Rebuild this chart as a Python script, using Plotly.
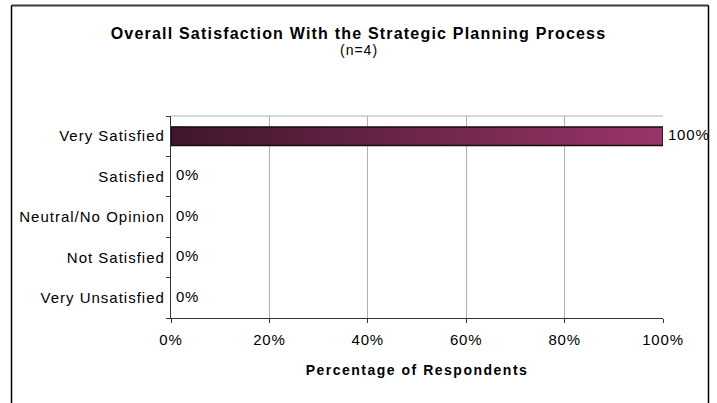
import plotly.graph_objects as go

categories = ["Very Satisfied", "Satisfied", "Neutral/No Opinion", "Not Satisfied", "Very Unsatisfied"]
values = [100, 0, 0, 0, 0]
x_ticks = [0, 20, 40, 60, 80, 100]
x_tick_labels = ["0%", "20%", "40%", "60%", "80%", "100%"]
value_labels = ["100%", "0%", "0%", "0%", "0%"]
title_text = "Overall Satisfaction With the Strategic Planning Process"
subtitle_text = "(n=4)"
x_title = "Percentage of Respondents"

FONT = "Liberation Sans, Arial, sans-serif"
C_DARK = (0x40, 0x16, 0x2c)
C_LIGHT = (0x9a, 0x35, 0x68)


def sp(t, ls):
    return f"<span style='letter-spacing:{ls}px'>{t}</span>"


def mix(f):
    return "rgb(%d,%d,%d)" % tuple(round(a + (b - a) * f) for a, b in zip(C_DARK, C_LIGHT))


fig = go.Figure()

# gradient bar: longest (lightest) first, shorter/darker layers on top
N = 80
for cat, v in zip(categories, values):
    if v <= 0:
        continue
    for i in range(N):
        frac = 1 - i / N
        fig.add_trace(go.Bar(
            y=[cat], x=[v * frac], base=0, orientation="h", width=0.46,
            marker=dict(color=mix(frac - 0.5 / N), line=dict(width=0)),
            hoverinfo="skip", showlegend=False,
        ))

# outline
fig.add_trace(go.Bar(
    y=categories, x=values, orientation="h", width=0.46,
    marker=dict(color="rgba(0,0,0,0)",
                line=dict(color="#1a0a12", width=[1.5 if v > 0 else 0 for v in values])),
    showlegend=False, hoverinfo="skip",
))

# value labels
fig.add_trace(go.Scatter(
    y=categories, x=values, mode="text",
    text=[sp("&nbsp;" + t, 0.8) for t in value_labels], textposition="middle right",
    textfont=dict(family=FONT, size=15, color="#000"),
    showlegend=False, hoverinfo="skip", cliponaxis=False,
))

fig.update_layout(
    width=717, height=403,
    margin=dict(l=171, r=54, t=116, b=85),
    paper_bgcolor="white", plot_bgcolor="white",
    barmode="overlay",
    font=dict(family=FONT, size=15, color="#000"),
    title=dict(text="<b>" + sp(title_text, 1.2) + "</b>", x=0.5, xanchor="center",
               y=1 - 33 / 403, yanchor="middle",
               font=dict(family=FONT, size=16, color="#000")),
    xaxis=dict(range=[0, 100], tickvals=x_ticks, ticktext=[sp(t, 0.8) for t in x_tick_labels],
               showgrid=True, gridcolor="#b0b0b0", gridwidth=1, zeroline=False,
               showline=True, linecolor="#333", linewidth=1.3,
               ticks="outside", ticklen=4, tickcolor="#333", ticklabelstandoff=4,
               title=dict(text="<b>" + sp(x_title, 1.5) + "</b>", standoff=18,
                          font=dict(family=FONT, size=14, color="#000")),
               tickfont=dict(family=FONT, size=15, color="#000")),
    yaxis=dict(type="category", categoryorder="array", categoryarray=categories,
               autorange="reversed", tickvals=categories,
               ticktext=[sp(c, 1.0) for c in categories],
               showgrid=False, zeroline=False, showline=True, linecolor="#333", linewidth=1.3,
               ticks="outside", ticklen=4, tickcolor="#333", tickson="boundaries",
               ticklabelstandoff=2,
               tickfont=dict(family=FONT, size=15, color="#000")),
    annotations=[dict(text=sp(subtitle_text, 1), xref="paper", yref="paper",
                      x=(358.5 - 171) / 492, y=(318 - 50) / 202, xanchor="center", yanchor="middle",
                      showarrow=False, font=dict(family=FONT, size=14, color="#000"))],
    shapes=[
        dict(type="line", xref="paper", yref="paper", x0=0, x1=1, y0=1, y1=1,
             line=dict(color="#b0b0b0", width=1)),
        dict(type="line", xref="paper", yref="paper", x0=(11.5 - 171) / 492, x1=(708.5 - 171) / 492,
             y0=(318 - 5.5) / 202, y1=(318 - 5.5) / 202, line=dict(color="#3a3a3a", width=2)),
        dict(type="line", xref="paper", yref="paper", x0=(11.5 - 171) / 492, x1=(11.5 - 171) / 492,
             y0=(318 - 5.5) / 202, y1=(318 - 420) / 202, line=dict(color="#000", width=1.5)),
        dict(type="line", xref="paper", yref="paper", x0=(708.5 - 171) / 492, x1=(708.5 - 171) / 492,
             y0=(318 - 5.5) / 202, y1=(318 - 420) / 202, line=dict(color="#000", width=1.5)),
    ],
)

fig.write_html("out.html", config={"displayModeBar": False},
               post_script="document.body.style.margin='0';document.body.style.overflow='hidden';")
